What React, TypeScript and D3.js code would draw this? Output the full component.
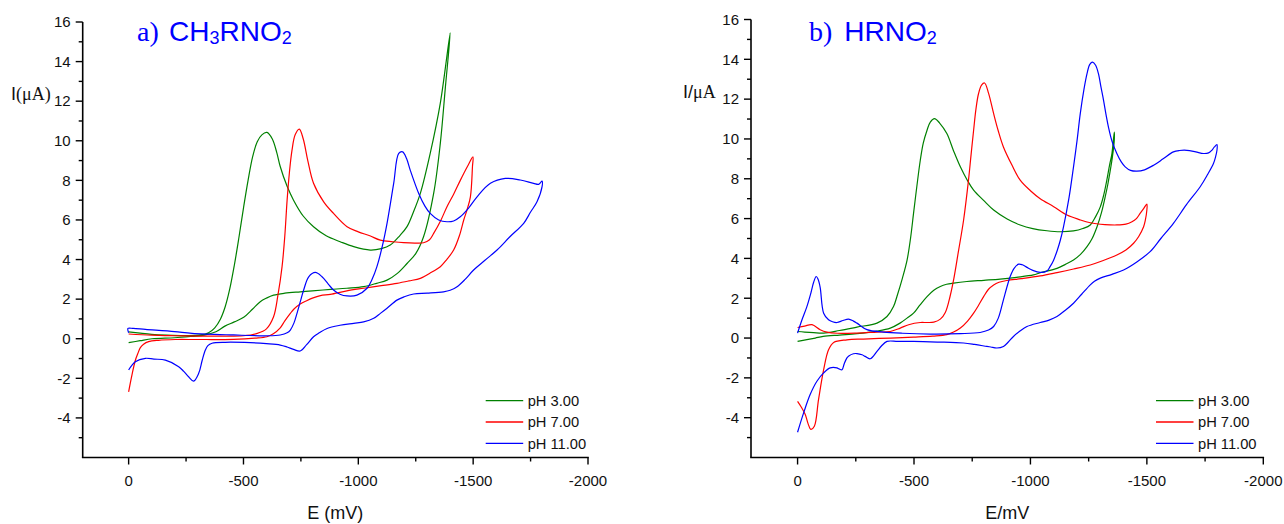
import React from 'react';
import * as d3 from 'd3';

type Pt = [number, number];

const xTicks = [0, -500, -1000, -1500, -2000];
const xMinorTicks = [-250, -750, -1250, -1750];
const yTicks = [-4, -2, 0, 2, 4, 6, 8, 10, 12, 14, 16];
const yMinorTicks = [-5, -3, -1, 1, 3, 5, 7, 9, 11, 13, 15];
const seriesNames = ['pH 3.00', 'pH 7.00', 'pH 11.00'];
const seriesColors = ['#008000', '#ff0000', '#0000ff'];

// Panel a) CH3RNO2  — [E (mV), I (uA)] along each cyclic scan
const aPH3: Pt[] = [
  [0, 0.35], [-50, 0.28], [-100, 0.22], [-167, 0.18], [-250, 0.16], [-312, 0.19], [-348, 0.3], [-375, 0.55],
  [-400, 1.0], [-420, 1.6], [-440, 2.5], [-460, 3.7], [-480, 5.1], [-500, 6.6], [-520, 8.0], [-540, 9.2],
  [-560, 9.95], [-580, 10.3], [-602, 10.42], [-625, 10.1], [-645, 9.4], [-660, 8.7], [-690, 7.7], [-718, 7.0],
  [-760, 6.2], [-805, 5.66], [-860, 5.2], [-921, 4.9], [-980, 4.65], [-1052, 4.48], [-1100, 4.55], [-1139, 4.73],
  [-1180, 5.2], [-1212, 5.66], [-1240, 6.4], [-1270, 7.34], [-1313, 9.36], [-1357, 11.9], [-1400, 15.45],
  [-1379, 12.7], [-1357, 9.87], [-1328, 7.34], [-1284, 5.15], [-1250, 4.3], [-1212, 3.8], [-1170, 3.3],
  [-1125, 2.96], [-1080, 2.8], [-1023, 2.63], [-950, 2.55], [-880, 2.49], [-800, 2.42], [-747, 2.37], [-680, 2.3],
  [-631, 2.2], [-600, 2.05], [-573, 1.87], [-540, 1.5], [-501, 1.08], [-460, 0.85], [-421, 0.65], [-380, 0.35],
  [-330, 0.18], [-276, 0.12], [-200, 0.05], [-102, 0.0], [-50, -0.1], [0, -0.2],
];
const aPH7: Pt[] = [
  [0, 0.24], [-100, 0.18], [-200, 0.15], [-300, 0.13], [-400, 0.13], [-500, 0.15], [-560, 0.27], [-600, 0.5],
  [-631, 1.11], [-650, 2.2], [-668, 3.64], [-680, 5.2], [-690, 7.0], [-700, 8.4], [-711, 9.5], [-725, 10.3],
  [-743, 10.59], [-760, 10.1], [-780, 9.0], [-805, 7.85], [-850, 6.9], [-892, 6.33], [-951, 5.66], [-1000, 5.4],
  [-1050, 5.2], [-1096, 4.98], [-1150, 4.9], [-1197, 4.85], [-1250, 4.83], [-1284, 4.85], [-1310, 5.0],
  [-1328, 5.32], [-1360, 6.0], [-1386, 6.67], [-1415, 7.3], [-1444, 8.0], [-1475, 8.7], [-1499, 9.19],
  [-1497, 8.7], [-1488, 7.17], [-1473, 6.5], [-1459, 6.0], [-1440, 5.2], [-1415, 4.48], [-1385, 4.0],
  [-1357, 3.64], [-1310, 3.3], [-1270, 3.05], [-1220, 2.92], [-1168, 2.8], [-1100, 2.68], [-1023, 2.55],
  [-950, 2.42], [-878, 2.24], [-835, 2.18], [-800, 2.05], [-775, 1.92], [-747, 1.75], [-720, 1.5], [-704, 1.28],
  [-680, 0.9], [-660, 0.55], [-630, 0.25], [-602, 0.1], [-550, 0.03], [-457, -0.03], [-300, -0.04], [-203, -0.04],
  [-130, -0.08], [-87, -0.15], [-65, -0.28], [-51, -0.45], [-40, -0.75], [-29, -1.1], [-15, -1.8], [0, -2.68],
];
const aPH11: Pt[] = [
  [0, 0.3], [3, 0.52], [-20, 0.52], [-73, 0.47], [-200, 0.36], [-276, 0.27], [-457, 0.19], [-602, 0.15],
  [-660, 0.19], [-690, 0.3], [-704, 0.44], [-720, 0.8], [-733, 1.28], [-748, 1.9], [-762, 2.46], [-784, 3.13],
  [-813, 3.35], [-842, 3.13], [-870, 2.75], [-892, 2.46], [-920, 2.25], [-951, 2.16], [-994, 2.2], [-1038, 2.55],
  [-1060, 3.0], [-1081, 3.64], [-1105, 4.7], [-1125, 5.83], [-1154, 7.85], [-1176, 9.36], [-1193, 9.44],
  [-1210, 9.1], [-1226, 8.52], [-1263, 7.34], [-1290, 6.7], [-1313, 6.33], [-1350, 6.0], [-1386, 5.91],
  [-1415, 5.95], [-1444, 6.16], [-1480, 6.6], [-1517, 7.17], [-1575, 7.85], [-1640, 8.1], [-1705, 8.02],
  [-1763, 7.85], [-1785, 7.8], [-1800, 7.96],
  [-1800, 7.68], [-1778, 6.92], [-1750, 6.4], [-1720, 5.83], [-1660, 5.15], [-1604, 4.48], [-1550, 3.95],
  [-1502, 3.47], [-1465, 3.0], [-1430, 2.63], [-1400, 2.45], [-1371, 2.37], [-1300, 2.3], [-1241, 2.26],
  [-1200, 2.12], [-1168, 1.95], [-1125, 1.54], [-1096, 1.28], [-1067, 1.03], [-1023, 0.85], [-980, 0.78],
  [-920, 0.68], [-864, 0.52], [-830, 0.3], [-805, 0.1], [-775, -0.3], [-747, -0.62], [-718, -0.54],
  [-690, -0.42], [-660, -0.32], [-600, -0.25], [-530, -0.2], [-421, -0.18], [-363, -0.23], [-345, -0.35],
  [-334, -0.57], [-320, -1.1], [-305, -1.75], [-283, -2.14], [-261, -1.92], [-240, -1.65], [-218, -1.41],
  [-160, -1.08], [-110, -1.03], [-73, -0.99], [-29, -1.16], [0, -1.58],
];

// Panel b) HRNO2
const bPH3: Pt[] = [
  [0, 0.33], [-30, 0.3], [-69, 0.27], [-112, 0.25], [-180, 0.38], [-255, 0.55], [-341, 0.75], [-384, 1.08],
  [-412, 1.58], [-427, 2.1], [-450, 3.0], [-470, 3.9], [-485, 5.0], [-498, 6.26], [-512, 7.6], [-527, 8.93],
  [-540, 9.8], [-556, 10.44], [-570, 10.85], [-588, 11.02], [-610, 10.8], [-641, 10.27], [-670, 9.4],
  [-699, 8.6], [-730, 7.9], [-756, 7.43], [-800, 6.9], [-842, 6.43], [-900, 5.98], [-956, 5.68], [-1010, 5.5],
  [-1071, 5.39], [-1128, 5.34], [-1185, 5.38], [-1225, 5.5], [-1257, 5.68], [-1280, 6.1], [-1300, 6.59],
  [-1315, 7.2], [-1328, 7.93], [-1340, 8.7], [-1350, 9.27], [-1360, 10.35],
  [-1360, 9.93], [-1352, 9.1], [-1343, 8.43], [-1332, 7.7], [-1321, 7.09], [-1305, 6.3], [-1286, 5.59],
  [-1265, 5.0], [-1243, 4.59], [-1215, 4.2], [-1185, 3.92], [-1150, 3.7], [-1114, 3.5], [-1042, 3.28],
  [-1013, 3.17], [-940, 3.05], [-870, 2.96], [-800, 2.9], [-727, 2.84], [-670, 2.76], [-640, 2.7], [-613, 2.59],
  [-585, 2.4], [-556, 2.08], [-525, 1.65], [-498, 1.25], [-470, 1.0], [-440, 0.75], [-398, 0.5], [-340, 0.35],
  [-255, 0.22], [-180, 0.15], [-110, 0.08], [-76, 0.0], [-40, -0.08], [0, -0.17],
];
const bPH7: Pt[] = [
  [0, 0.53], [-30, 0.6], [-62, 0.67], [-97, 0.42], [-126, 0.3], [-170, 0.24], [-255, 0.25], [-341, 0.3],
  [-398, 0.33], [-441, 0.5], [-477, 0.67], [-527, 0.78], [-556, 0.78], [-585, 0.8], [-613, 0.95], [-635, 1.3],
  [-655, 2.1], [-670, 2.92], [-690, 4.3], [-713, 5.93], [-734, 7.93], [-745, 9.2], [-756, 10.44], [-766, 11.5],
  [-777, 12.27], [-790, 12.7], [-803, 12.81], [-820, 12.3], [-842, 11.27], [-862, 10.4], [-884, 9.6],
  [-920, 8.7], [-956, 7.93], [-1000, 7.4], [-1042, 7.0], [-1100, 6.6], [-1157, 6.18], [-1210, 5.95],
  [-1257, 5.79], [-1320, 5.7], [-1371, 5.68], [-1410, 5.72], [-1436, 5.84], [-1455, 6.0], [-1471, 6.26],
  [-1486, 6.5], [-1500, 6.73],
  [-1500, 6.43], [-1493, 5.9], [-1486, 5.59], [-1465, 5.1], [-1443, 4.76], [-1410, 4.42], [-1371, 4.17],
  [-1310, 3.88], [-1257, 3.67], [-1185, 3.47], [-1114, 3.29], [-1042, 3.12], [-960, 2.98], [-899, 2.89],
  [-865, 2.8], [-842, 2.67], [-820, 2.45], [-799, 2.08], [-775, 1.6], [-756, 1.25], [-730, 0.85], [-699, 0.5],
  [-670, 0.3], [-641, 0.17], [-580, 0.1], [-498, 0.05], [-400, 0.0], [-283, -0.05], [-212, -0.09],
  [-155, -0.22], [-133, -0.59], [-112, -1.59], [-90, -3.09], [-72, -4.43], [-57, -4.59], [-45, -4.3],
  [-33, -3.84], [-15, -3.45], [0, -3.18],
];
const bPH11: Pt[] = [
  [0, 0.25], [-19, 0.92], [-40, 1.58], [-58, 2.3], [-69, 2.8], [-80, 3.09], [-88, 2.95], [-97, 2.55],
  [-112, 1.25], [-133, 0.92], [-150, 0.82], [-169, 0.78], [-195, 0.88], [-219, 0.95], [-240, 0.85],
  [-255, 0.75], [-298, 0.42], [-369, 0.3], [-450, 0.24], [-570, 0.2], [-700, 0.22], [-784, 0.28], [-820, 0.4],
  [-842, 0.58], [-862, 1.0], [-884, 1.92], [-900, 2.6], [-913, 3.09], [-930, 3.5], [-949, 3.71], [-965, 3.68],
  [-985, 3.55], [-1010, 3.4], [-1042, 3.3], [-1071, 3.37], [-1085, 3.6], [-1099, 3.9], [-1115, 4.4],
  [-1128, 4.9], [-1142, 5.59], [-1165, 7.0], [-1185, 8.6], [-1200, 9.9], [-1214, 11.27], [-1230, 12.5],
  [-1243, 13.28], [-1255, 13.75], [-1267, 13.86], [-1280, 13.7], [-1292, 13.28], [-1303, 12.6],
  [-1314, 11.94], [-1325, 11.2], [-1335, 10.6], [-1350, 9.9], [-1371, 9.27], [-1390, 8.85], [-1407, 8.6],
  [-1430, 8.42], [-1457, 8.38], [-1490, 8.45], [-1529, 8.68], [-1570, 9.0], [-1614, 9.35], [-1640, 9.42],
  [-1672, 9.43], [-1710, 9.35], [-1743, 9.27], [-1765, 9.3], [-1779, 9.43], [-1790, 9.6], [-1801, 9.72],
  [-1801, 9.43], [-1795, 9.1], [-1786, 8.77], [-1760, 8.2], [-1729, 7.6], [-1670, 6.7], [-1614, 5.76],
  [-1560, 5.0], [-1514, 4.34], [-1460, 3.85], [-1400, 3.42], [-1350, 3.2], [-1300, 3.01], [-1275, 2.85],
  [-1257, 2.67], [-1220, 2.2], [-1185, 1.75], [-1150, 1.4], [-1114, 1.08], [-1080, 0.9], [-1042, 0.78],
  [-985, 0.58], [-955, 0.35], [-927, 0.08], [-905, -0.2], [-884, -0.42], [-856, -0.5], [-830, -0.45],
  [-813, -0.42], [-760, -0.32], [-713, -0.25], [-600, -0.2], [-498, -0.17], [-430, -0.17], [-384, -0.17],
  [-360, -0.4], [-341, -0.67], [-312, -1.04], [-290, -0.92], [-277, -0.84], [-255, -0.78], [-240, -0.79],
  [-220, -0.9], [-212, -1.0], [-200, -1.3], [-191, -1.59], [-178, -1.55], [-169, -1.5], [-140, -1.5],
  [-112, -1.75], [-83, -2.17], [-54, -2.84], [-26, -3.76], [0, -4.73],
];

const fontSans = "'Liberation Sans', Arial, sans-serif";
const fontSerif = "'Liberation Serif', 'Times New Roman', serif";

type PanelProps = {
  x0: number; x1: number; yTop: number; yBottom: number;
  series: Pt[][];
  titleLetter: string; titleLetterX: number; titleParts: { t: string; sub?: boolean }[]; titleX: number;
  yLabel: React.ReactNode; xLabel: string;
  legendX: number;
};

function Panel(p: PanelProps) {
  const x = d3.scaleLinear().domain([200, -2000]).range([p.x0, p.x1]);
  const y = d3.scaleLinear().domain([-6, 16]).range([p.yBottom, p.yTop]);
  const line = d3.line<Pt>().x(d => x(d[0])).y(d => y(d[1])).curve(d3.curveCatmullRom.alpha(0.5));
  const axisY = p.yBottom;
  const midX = (p.x0 + p.x1) / 2;
  return (
    <g>
      {p.series.map((s, i) => (
        <path key={i} d={line(s) || ''} fill="none" stroke={seriesColors[i]} strokeWidth={1.2} strokeLinejoin="round" />
      ))}
      {/* axes */}
      <line x1={p.x0} x2={p.x0} y1={p.yTop} y2={axisY} stroke="#000" strokeWidth={1.6} />
      <line x1={p.x0 - 0.8} x2={p.x1 + 0.8} y1={axisY} y2={axisY} stroke="#000" strokeWidth={1.6} />
      {yTicks.map(t => (
        <g key={'yt' + t}>
          <line x1={p.x0 - 7} x2={p.x0} y1={y(t)} y2={y(t)} stroke="#000" strokeWidth={1.4} />
          <text x={p.x0 - 12} y={y(t) + 5.3} textAnchor="end" fontFamily={fontSans} fontSize={15} fill="#111">{t}</text>
        </g>
      ))}
      {yMinorTicks.map(t => (
        <line key={'ym' + t} x1={p.x0 - 4} x2={p.x0} y1={y(t)} y2={y(t)} stroke="#000" strokeWidth={1.4} />
      ))}
      {xTicks.map(t => (
        <g key={'xt' + t}>
          <line x1={x(t)} x2={x(t)} y1={axisY} y2={axisY + 7} stroke="#000" strokeWidth={1.4} />
          <text x={x(t)} y={axisY + 28.5} textAnchor="middle" fontFamily={fontSans} fontSize={15} fill="#111">{t}</text>
        </g>
      ))}
      {xMinorTicks.map(t => (
        <line key={'xm' + t} x1={x(t)} x2={x(t)} y1={axisY} y2={axisY + 4} stroke="#000" strokeWidth={1.4} />
      ))}
      <text x={midX} y={519} textAnchor="middle" fontFamily={fontSans} fontSize={18} fill="#111">{p.xLabel}</text>
      {p.yLabel}
      {/* title */}
      <text y={41} fill="#0000ff" fontSize={28}>
        <tspan x={p.titleLetterX} fontFamily={fontSerif}>{p.titleLetter}</tspan>
        {p.titleParts.map((part, i) => (
          <tspan key={i} x={i === 0 ? p.titleX : undefined} fontFamily={fontSans}
            fontSize={part.sub ? 18 : 28}
            dy={part.sub ? 2.5 : (i > 0 && p.titleParts[i - 1].sub ? -2.5 : 0)}>{part.t}</tspan>
        ))}
      </text>
      {/* legend */}
      {seriesNames.map((n, i) => {
        const cy = 400.7 + i * 21.3;
        return (
          <g key={n}>
            <line x1={p.legendX} x2={p.legendX + 37.5} y1={cy} y2={cy} stroke={seriesColors[i]} strokeWidth={1.3} />
            <text x={p.legendX + 42} y={cy + 5.2} fontFamily={fontSans} fontSize={14.7} fill="#111">{n}</text>
          </g>
        );
      })}
    </g>
  );
}

export default function App() {
  return (
    <svg width={1284} height={524} viewBox="0 0 1284 524"
      style={{ position: 'absolute', left: 0, top: 0, background: '#fff' }}>
      <rect x={0} y={0} width={1284} height={524} fill="#fff" />
      <Panel
        x0={82.7} x1={588} yTop={22} yBottom={457.5}
        series={[aPH3, aPH7, aPH11]}
        titleLetter="a)" titleLetterX={137}
        titleParts={[{ t: 'CH' }, { t: '3', sub: true }, { t: 'RNO' }, { t: '2', sub: true }]} titleX={169}
        yLabel={
          <text y={100} fontSize={18} fill="#111">
            <tspan x={11} fontFamily={fontSans}>I</tspan>
            <tspan fontFamily={fontSerif}>(μA)</tspan>
          </text>
        }
        xLabel="E (mV)"
        legendX={485.7}
      />
      <Panel
        x0={751} x1={1263.3} yTop={19.5} yBottom={457.5}
        series={[bPH3, bPH7, bPH11]}
        titleLetter="b)" titleLetterX={809}
        titleParts={[{ t: 'HRNO' }, { t: '2', sub: true }]} titleX={844.3}
        yLabel={
          <text y={98} fontSize={18} fill="#111">
            <tspan x={683} fontFamily={fontSans}>I/</tspan>
            <tspan fontFamily={fontSerif}>μA</tspan>
          </text>
        }
        xLabel="E/mV"
        legendX={1156}
      />
    </svg>
  );
}
